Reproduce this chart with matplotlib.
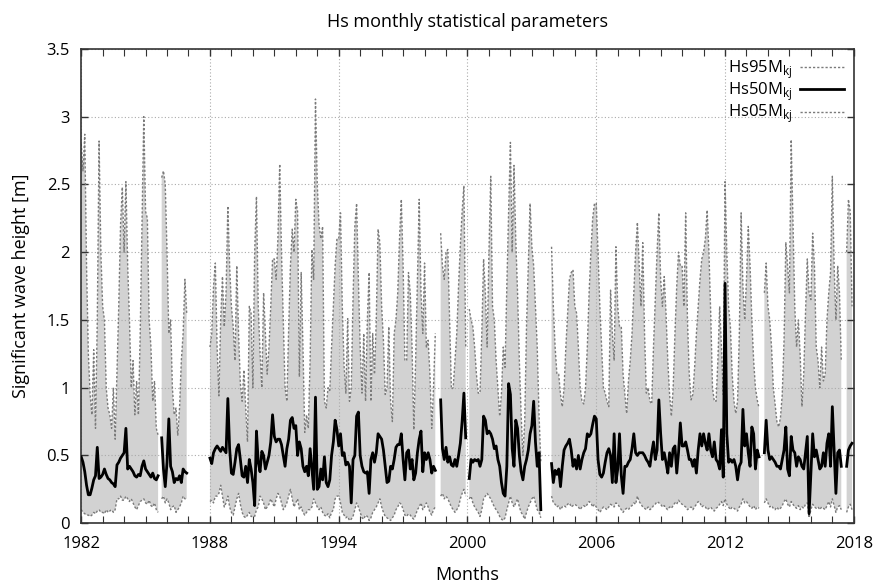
import numpy as np
import matplotlib
matplotlib.use("Agg")
from matplotlib import pyplot as plt
from matplotlib.ticker import MultipleLocator

N = None
years = list(range(1982, 2018))

# monthly 95th percentile, one row per year (Jan..Dec)
hs95 = [
    [2.8, 2.6, 2.87, 1.9, 1.25, 0.95, 0.8, 1.28, 0.7, 1.5, 2.82, 2.0],
    [1.6, 1.5, 1.0, 0.85, 0.8, 0.7, 1.0, 0.62, 1.1, 1.6, 2.2, 2.48],
    [2.0, 2.52, 1.9, 1.5, 1.0, 1.2, 0.8, 1.05, 0.8, 1.4, 2.2, 3.0],
    [2.3, 2.25, 1.5, 1.3, 0.9, 1.05, 0.7, 0.65, N, 2.55, 2.6, 2.5],
    [2.0, 1.4, 1.5, 1.0, 0.8, 0.85, 0.65, 0.85, 1.2, 1.4, 1.8, 1.55],
    [N] * 12,
    [1.3, 1.4, 1.75, 1.92, 1.3, 0.94, 1.5, 1.82, 1.45, 1.7, 2.34, 1.9],
    [1.6, 1.45, 1.2, 1.9, 1.4, 1.03, 0.9, 1.13, 0.85, 0.6, 1.6, 1.55],
    [1.0, 2.0, 2.41, 1.6, 1.26, 1.0, 1.7, 1.4, 1.1, 1.3, 1.6, 1.95],
    [1.95, 1.8, 2.1, 2.65, 2.0, 1.5, 1.0, 0.9, 1.43, 1.9, 2.17, 2.0],
    [2.39, 2.3, 1.08, 1.85, 1.3, 0.67, 0.8, 0.7, 1.2, 2.02, 1.8, 3.13],
    [2.5, 2.2, 2.1, 2.19, 0.9, 0.85, 1.0, 0.98, 1.3, 1.6, 1.9, 2.1],
    [2.1, 2.29, 1.6, 1.16, 0.96, 1.51, 0.9, 1.0, 1.65, 2.19, 2.36, 1.8],
    [1.3, 0.96, 1.4, 0.9, 1.5, 1.85, 0.9, 1.4, 1.1, 1.5, 2.17, 2.07],
    [1.6, 1.35, 0.95, 1.0, 1.45, 0.9, 0.75, 1.4, 1.5, 1.7, 2.1, 2.39],
    [1.9, 1.2, 1.2, 1.85, 1.7, 1.3, 0.69, 1.2, 1.8, 2.39, 1.7, 1.4],
    [1.92, 1.3, 1.35, 1.1, 0.7, 1.0, 1.4, N, N, 2.14, 1.9, 1.8],
    [2.0, 2.02, 1.5, 0.99, 1.0, 1.2, 1.4, 1.75, 2.05, 2.3, 2.49, 1.3],
    [N, 1.58, 1.5, 1.45, 1.3, 1.1, 0.96, 0.96, 1.4, 1.95, 1.7, 1.3],
    [2.0, 2.56, 1.6, 1.5, 1.2, 1.0, 0.79, 0.96, 1.3, 1.15, 1.75, 2.3],
    [2.81, 2.0, 2.64, 2.09, 1.7, 1.2, 0.8, 0.5, 0.75, 1.45, 1.9, 2.36],
    [2.04, 1.9, 1.6, 1.3, 0.8, 0.45, N, N, N, N, N, 2.04],
    [1.6, 1.3, 1.1, 1.1, 0.95, 0.86, 1.0, 1.3, 1.55, 1.8, 1.85, 1.87],
    [1.6, 1.55, 1.3, 1.0, 0.9, 0.88, 1.0, 1.3, 1.7, 2.0, 2.25, 2.36],
    [2.36, 2.0, 1.6, 1.3, 1.0, 0.96, 0.9, 0.86, 1.72, 1.4, 1.2, 2.04],
    [1.6, 1.45, 1.45, 1.1, 0.95, 0.81, 1.05, 1.2, 1.4, 1.7, 2.0, 2.22],
    [1.9, 1.6, 2.07, 1.4, 0.96, 1.0, 0.9, 0.88, 1.3, 1.65, 2.0, 2.29],
    [1.8, 1.6, 1.82, 1.55, 1.2, 0.95, 0.79, 1.0, 1.4, 1.75, 2.0, 1.9],
    [1.9, 1.6, 2.29, 1.5, 1.1, 0.91, 0.95, 1.15, 1.4, 1.6, 1.8, 1.95],
    [2.0, 2.1, 2.31, 2.0, 1.55, 1.0, 0.9, 0.9, 1.2, 1.6, 1.3, 0.95],
    [2.52, 2.0, 1.6, 1.45, 1.1, 0.9, 0.81, 0.9, 1.4, 2.29, 1.75, 1.5],
    [1.8, 2.19, 1.9, 1.5, 1.2, 1.0, 0.91, 0.85, N, N, 1.7, 1.92],
    [1.6, 1.5, 1.3, 1.0, 0.88, 0.75, 0.71, 0.78, 0.95, 1.35, 2.07, 1.9],
    [1.7, 2.83, 2.2, 1.6, 1.3, 1.5, 1.25, 0.86, 1.1, 1.55, 1.95, 1.7],
    [1.65, 2.14, 1.9, 1.3, 1.2, 1.0, 1.3, 1.05, 1.1, 1.5, 1.7, 1.85],
    [2.56, 1.9, 1.5, 1.9, 1.7, 1.2, N, N, 2.0, 2.39, 2.3, 1.6],
]

# monthly median
hs50 = [
    [0.49, 0.45, 0.38, 0.28, 0.21, 0.21, 0.26, 0.32, 0.35, 0.56, 0.33, 0.34],
    [0.36, 0.4, 0.36, 0.33, 0.32, 0.3, 0.29, 0.27, 0.43, 0.45, 0.48, 0.5],
    [0.52, 0.7, 0.4, 0.42, 0.4, 0.38, 0.35, 0.34, 0.36, 0.35, 0.42, 0.46],
    [0.4, 0.38, 0.36, 0.34, 0.37, 0.33, 0.32, 0.35, N, 0.63, 0.4, 0.27],
    [0.45, 0.77, 0.42, 0.38, 0.3, 0.33, 0.32, 0.35, 0.3, 0.4, 0.38, 0.37],
    [N] * 12,
    [0.48, 0.44, 0.52, 0.55, 0.57, 0.55, 0.53, 0.56, 0.54, 0.52, 0.92, 0.55],
    [0.37, 0.36, 0.45, 0.55, 0.58, 0.47, 0.35, 0.34, 0.42, 0.3, 0.47, 0.4],
    [0.3, 0.13, 0.68, 0.45, 0.38, 0.53, 0.5, 0.4, 0.45, 0.5, 0.6, 0.8],
    [0.64, 0.6, 0.62, 0.62, 0.58, 0.5, 0.42, 0.55, 0.62, 0.76, 0.78, 0.7],
    [0.72, 0.5, 0.6, 0.55, 0.42, 0.38, 0.42, 0.35, 0.55, 0.4, 0.25, 0.93],
    [0.25, 0.27, 0.4, 0.32, 0.49, 0.3, 0.27, 0.32, 0.5, 0.6, 0.76, 0.69],
    [0.57, 0.66, 0.5, 0.52, 0.43, 0.45, 0.42, 0.15, 0.47, 0.5, 0.79, 0.82],
    [0.5, 0.42, 0.38, 0.37, 0.38, 0.22, 0.47, 0.52, 0.45, 0.52, 0.66, 0.64],
    [0.62, 0.54, 0.42, 0.3, 0.31, 0.42, 0.4, 0.47, 0.56, 0.58, 0.58, 0.66],
    [0.47, 0.32, 0.52, 0.54, 0.4, 0.47, 0.32, 0.37, 0.52, 0.62, 0.68, 0.38],
    [0.52, 0.47, 0.52, 0.47, 0.37, 0.42, 0.39, N, N, 0.91, 0.55, 0.47],
    [0.56, 0.45, 0.49, 0.43, 0.42, 0.47, 0.42, 0.5, 0.59, 0.75, 0.96, 0.63],
    [N, 0.33, 0.47, 0.45, 0.47, 0.46, 0.47, 0.42, 0.47, 0.79, 0.76, 0.66],
    [0.68, 0.66, 0.62, 0.55, 0.57, 0.47, 0.42, 0.3, 0.22, 0.2, 0.42, 1.03],
    [0.95, 0.55, 0.42, 0.76, 0.7, 0.5, 0.38, 0.32, 0.42, 0.47, 0.54, 0.66],
    [0.72, 0.9, 0.6, 0.42, 0.52, 0.1, N, N, N, N, N, 0.44],
    [0.3, 0.39, 0.36, 0.4, 0.27, 0.42, 0.54, 0.57, 0.59, 0.62, 0.54, 0.42],
    [0.47, 0.4, 0.5, 0.4, 0.47, 0.52, 0.55, 0.66, 0.64, 0.66, 0.73, 0.79],
    [0.77, 0.47, 0.36, 0.34, 0.37, 0.45, 0.52, 0.55, 0.5, 0.3, 0.66, 0.3],
    [0.4, 0.66, 0.35, 0.22, 0.42, 0.42, 0.45, 0.47, 0.55, 0.66, 0.52, 0.5],
    [0.52, 0.52, 0.52, 0.5, 0.47, 0.45, 0.42, 0.52, 0.6, 0.47, 0.54, 0.91],
    [0.66, 0.47, 0.52, 0.45, 0.37, 0.52, 0.42, 0.55, 0.57, 0.37, 0.52, 0.74],
    [0.57, 0.57, 0.6, 0.54, 0.47, 0.47, 0.42, 0.47, 0.37, 0.54, 0.66, 0.57],
    [0.66, 0.59, 0.54, 0.66, 0.54, 0.49, 0.6, 0.47, 0.45, 0.4, 0.69, 0.34],
    [1.77, 0.66, 0.45, 0.47, 0.45, 0.47, 0.42, 0.32, 0.42, 0.45, 0.84, 0.57],
    [0.66, 0.52, 0.42, 0.71, 0.66, 0.4, 0.54, 0.49, N, N, 0.52, 0.76],
    [0.54, 0.47, 0.49, 0.47, 0.45, 0.42, 0.42, 0.4, 0.47, 0.54, 0.71, 0.4],
    [0.35, 0.64, 0.54, 0.52, 0.42, 0.49, 0.47, 0.42, 0.4, 0.52, 0.64, 0.07],
    [0.37, 0.66, 0.49, 0.54, 0.47, 0.4, 0.42, 0.52, 0.42, 0.59, 0.66, 0.42],
    [0.86, 0.54, 0.22, 0.52, 0.54, 0.42, N, N, 0.42, 0.54, 0.57, 0.59],
]

# monthly 5th percentile
hs05 = [
    [0.1, 0.08, 0.07, 0.06, 0.06, 0.05, 0.06, 0.08, 0.07, 0.09, 0.1, 0.08],
    [0.08, 0.07, 0.1, 0.08, 0.09, 0.1, 0.08, 0.1, 0.18, 0.18, 0.2, 0.17],
    [0.17, 0.2, 0.18, 0.16, 0.18, 0.15, 0.12, 0.1, 0.13, 0.16, 0.17, 0.18],
    [0.15, 0.14, 0.17, 0.13, 0.12, 0.15, 0.1, 0.08, N, 0.18, 0.2, 0.15],
    [0.18, 0.15, 0.1, 0.12, 0.13, 0.08, 0.1, 0.12, 0.15, 0.2, 0.18, 0.18],
    [N] * 12,
    [0.16, 0.17, 0.15, 0.2, 0.2, 0.22, 0.28, 0.2, 0.12, 0.15, 0.2, 0.12],
    [0.08, 0.06, 0.12, 0.18, 0.22, 0.14, 0.08, 0.05, 0.04, 0.06, 0.08, 0.05],
    [0.05, 0.05, 0.1, 0.12, 0.2, 0.18, 0.15, 0.1, 0.12, 0.14, 0.18, 0.15],
    [0.12, 0.18, 0.22, 0.2, 0.15, 0.1, 0.12, 0.15, 0.2, 0.25, 0.18, 0.12],
    [0.15, 0.18, 0.1, 0.12, 0.08, 0.06, 0.08, 0.1, 0.1, 0.12, 0.18, 0.15],
    [0.12, 0.1, 0.12, 0.08, 0.06, 0.05, 0.07, 0.04, 0.08, 0.1, 0.18, 0.2],
    [0.2, 0.15, 0.08, 0.06, 0.04, 0.05, 0.02, 0.03, 0.05, 0.1, 0.15, 0.12],
    [0.08, 0.04, 0.03, 0.06, 0.05, 0.02, 0.04, 0.08, 0.1, 0.12, 0.15, 0.18],
    [0.12, 0.08, 0.05, 0.04, 0.03, 0.02, 0.04, 0.06, 0.1, 0.12, 0.15, 0.14],
    [0.1, 0.06, 0.05, 0.07, 0.06, 0.04, 0.03, 0.06, 0.1, 0.12, 0.15, 0.1],
    [0.12, 0.15, 0.12, 0.08, 0.06, 0.1, 0.12, N, N, 0.2, 0.22, 0.18],
    [0.2, 0.18, 0.15, 0.12, 0.1, 0.08, 0.1, 0.12, 0.18, 0.22, 0.25, 0.2],
    [N, 0.18, 0.2, 0.15, 0.12, 0.1, 0.08, 0.05, 0.1, 0.18, 0.2, 0.22],
    [0.2, 0.18, 0.15, 0.12, 0.1, 0.08, 0.05, 0.03, 0.02, 0.04, 0.1, 0.15],
    [0.2, 0.15, 0.12, 0.15, 0.18, 0.12, 0.08, 0.06, 0.03, 0.08, 0.12, 0.15],
    [0.18, 0.2, 0.15, 0.1, 0.08, 0.04, N, N, N, N, N, 0.2],
    [0.15, 0.14, 0.12, 0.13, 0.1, 0.12, 0.13, 0.12, 0.14, 0.15, 0.12, 0.13],
    [0.14, 0.13, 0.12, 0.1, 0.12, 0.13, 0.12, 0.14, 0.16, 0.15, 0.12, 0.14],
    [0.12, 0.1, 0.08, 0.1, 0.12, 0.11, 0.1, 0.12, 0.14, 0.13, 0.12, 0.15],
    [0.14, 0.12, 0.1, 0.08, 0.1, 0.11, 0.1, 0.12, 0.13, 0.15, 0.14, 0.2],
    [0.16, 0.14, 0.12, 0.11, 0.1, 0.12, 0.1, 0.11, 0.13, 0.14, 0.16, 0.15],
    [0.14, 0.12, 0.13, 0.11, 0.1, 0.12, 0.11, 0.13, 0.15, 0.14, 0.17, 0.15],
    [0.14, 0.13, 0.12, 0.1, 0.11, 0.12, 0.1, 0.12, 0.14, 0.16, 0.15, 0.12],
    [0.13, 0.12, 0.1, 0.11, 0.12, 0.1, 0.09, 0.11, 0.12, 0.14, 0.16, 0.13],
    [0.18, 0.14, 0.12, 0.1, 0.12, 0.11, 0.1, 0.09, 0.12, 0.14, 0.18, 0.15],
    [0.16, 0.14, 0.12, 0.11, 0.13, 0.1, 0.12, 0.11, N, N, 0.15, 0.18],
    [0.15, 0.12, 0.13, 0.11, 0.1, 0.12, 0.1, 0.11, 0.13, 0.16, 0.18, 0.14],
    [0.12, 0.16, 0.14, 0.12, 0.11, 0.13, 0.1, 0.12, 0.11, 0.14, 0.15, 0.04],
    [0.1, 0.14, 0.12, 0.11, 0.12, 0.1, 0.12, 0.11, 0.1, 0.13, 0.16, 0.12],
    [0.18, 0.13, 0.08, 0.12, 0.13, 0.1, N, N, 0.08, 0.12, 0.14, 0.1],
]

labels = ['Hs95M$_{\\mathrm{kj}}$', 'Hs50M$_{\\mathrm{kj}}$', 'Hs05M$_{\\mathrm{kj}}$']
xticks = [1982, 1988, 1994, 2000, 2006, 2012, 2018]
yticks = [0, 0.5, 1, 1.5, 2, 2.5, 3, 3.5]
yticklabels = ['0', '0.5', '1', '1.5', '2', '2.5', '3', '3.5']

plt.rcParams['font.family'] = ['Open Sans', 'DejaVu Sans']
plt.rcParams['mathtext.fontset'] = 'custom'
plt.rcParams['mathtext.rm'] = 'Open Sans'

t = np.array([y + m / 12.0 for y in years for m in range(12)])
v95 = np.array(hs95, dtype=float).ravel()
v50 = np.array(hs50, dtype=float).ravel()
v05 = np.array(hs05, dtype=float).ravel()

fig = plt.figure(figsize=(8.73, 5.82), dpi=100)
ax = fig.add_axes([0.093, 0.101, 0.885, 0.815])

ax.fill_between(t, v05, v95, color='#d2d2d2', lw=0, zorder=1)
dot = dict(color='#7a7a7a', lw=1.0, ls=(0, (1.6, 1.4)), zorder=2)
ax.plot(t, v95, label=labels[0], **dot)
ax.plot(t, v50, color='black', lw=2.0, label=labels[1], zorder=3)
ax.plot(t, v05, label=labels[2], **dot)

ax.set_xlim(1982, 2018)
ax.set_ylim(0, 3.5)
ax.set_xticks(xticks)
ax.xaxis.set_minor_locator(MultipleLocator(1))
ax.set_yticks(yticks, yticklabels)
ax.tick_params(which='both', direction='in', top=True, right=True,
               labelsize=12, color='#333333')
ax.tick_params(which='major', length=5, width=1)
ax.tick_params(which='minor', length=5, width=0.8)
ax.tick_params(axis='x', pad=9)
ax.tick_params(axis='y', pad=8)
ax.grid(True, which='major', ls=(0, (1, 2)), color='#aaaaaa', lw=0.8)
for s in ax.spines.values():
    s.set_color('#333333')
    s.set_linewidth(1.2)

ax.set_title('Hs monthly statistical parameters', fontsize=13, pad=16)
ax.set_xlabel('Months', fontsize=13, labelpad=10)
ax.set_ylabel('Significant wave height [m]', fontsize=13, labelpad=12)

ax.legend(loc='upper right', frameon=False, markerfirst=False, fontsize=12,
          handlelength=2.6, labelspacing=0.0, borderaxespad=0.2,
          handletextpad=0.5)

fig.savefig('out.png', dpi=100)
